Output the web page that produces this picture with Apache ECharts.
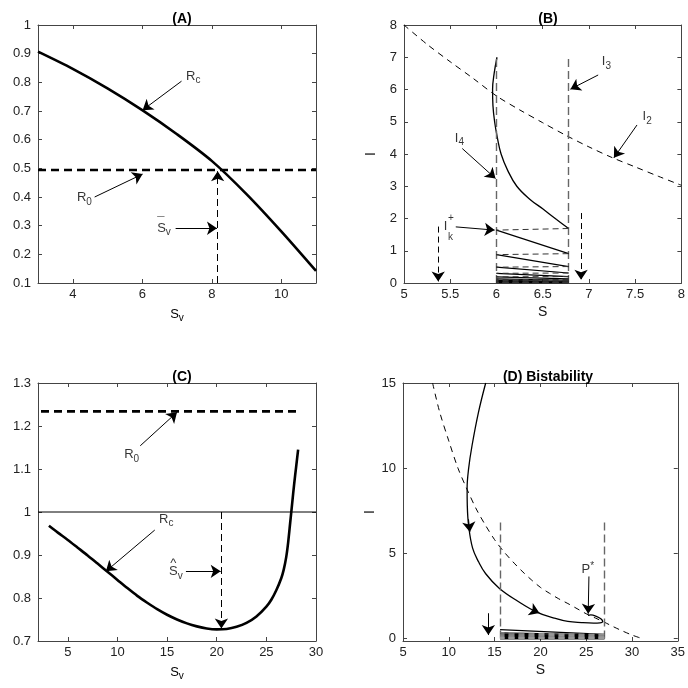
<!DOCTYPE html>
<html><head><meta charset="utf-8">
<script src="https://cdn.jsdelivr.net/npm/echarts@6/dist/echarts.min.js"></script>
<style>html,body{margin:0;padding:0;background:#fff}#c{width:688px;height:688px}</style>
</head><body><div id="c"></div>
<script>
// ---------------- DATA ----------------
// Panel A
const aS  = [3, 4, 5, 6, 7, 8, 9, 10, 11];
const aRc = [0.907, 0.847, 0.779, 0.703, 0.619, 0.526, 0.41, 0.28, 0.142];
const aR0 = 0.494;
const aSbar = 8.17;
const aXTicks = [4, 6, 8, 10];
const aYTicks = [0.1, 0.2, 0.3, 0.4, 0.5, 0.6, 0.7, 0.8, 0.9, 1];
// Panel B
const bNullS = [5, 5.25, 5.5, 5.75, 6, 6.25, 6.5, 6.75, 7, 7.25, 7.5, 7.75, 8];
const bNullI = [8, 7.4, 6.86, 6.34, 5.8, 5.37, 4.97, 4.58, 4.22, 3.89, 3.6, 3.31, 3.03];
const bTrajS = [6.006, 5.975, 5.958, 5.962, 5.98, 6.01, 6.05, 6.12, 6.22, 6.36, 6.5, 6.65, 6.78];
const bTrajI = [7.0, 6.5, 6.0, 5.5, 5.0, 4.5, 4.0, 3.5, 3.0, 2.6, 2.3, 1.97, 1.69];
const bSLow = 6.0, bSHigh = 6.78;
const bPulseStart = [1.64, 0.88, 0.49, 0.30, 0.19, 0.125, 0.08, 0.052, 0.034, 0.022, 0.014, 0.009];
const bPulseEnd   = [0.91, 0.51, 0.31, 0.20, 0.13, 0.085, 0.055, 0.036, 0.024, 0.015, 0.010, 0.006];
const bXTicks = [5, 5.5, 6, 6.5, 7, 7.5, 8];
const bYTicks = [0, 1, 2, 3, 4, 5, 6, 7, 8];
// Panel C
const cS  = [3.1, 4, 5, 6, 7, 8, 9, 10, 11, 12, 13, 14, 15, 16, 17, 18, 19, 20, 21, 22, 23, 24, 25, 25.5, 26, 26.5, 26.75, 27, 27.2, 27.4, 27.6, 27.8, 28, 28.2];
const cRc = [0.968, 0.952, 0.935, 0.917, 0.899, 0.88, 0.861, 0.842, 0.823, 0.805, 0.789, 0.774, 0.761, 0.75, 0.741, 0.734, 0.729, 0.727, 0.728, 0.733, 0.742, 0.757, 0.78, 0.796, 0.818, 0.846, 0.866, 0.895, 0.93, 0.975, 1.02, 1.065, 1.105, 1.145];
const cR0 = 1.234, cR0From = 2.3, cR0To = 28.2;
const cShat = 20.47;
const cXTicks = [5, 10, 15, 20, 25, 30];
const cYTicks = [0.7, 0.8, 0.9, 1, 1.1, 1.2, 1.3];
// Panel D
const dNullS = [8.23, 9, 10, 11, 12, 13, 14, 15, 16, 17, 18, 19, 20, 21, 22, 23, 24, 25, 26, 27, 28, 29, 30, 30.9];
const dNullI = [15, 13.3, 11.6, 10.0, 8.75, 7.6, 6.65, 5.8, 5.1, 4.5, 3.95, 3.45, 3.0, 2.65, 2.33, 2.05, 1.75, 1.45, 1.2, 0.95, 0.68, 0.43, 0.2, 0.03];
const dTrajS = [14.03, 13.25, 12.53, 12.17, 12.0, 12.02, 12.17, 12.6, 13.25, 14.03, 15.5, 17.5, 19.6, 21.5, 23.0, 24.5, 25.8, 26.5, 26.8, 26.6, 26.1, 25.5, 25.2];
const dTrajI = [15, 13.3, 11.3, 10.0, 8.8, 7.8, 6.6, 5.3, 4.5, 3.8, 2.95, 2.2, 1.55, 1.2, 1.0, 0.93, 0.9, 0.92, 1.0, 1.15, 1.3, 1.38, 1.36];
const dSLow = 15.6, dSHigh = 27.0;
const dPulseStart = [0.52, 0.33, 0.25, 0.19, 0.14, 0.10, 0.07, 0.05, 0.035, 0.025];
const dPulseEnd   = [0.24, 0.21, 0.16, 0.12, 0.09, 0.065, 0.045, 0.032, 0.022, 0.015];
const dXTicks = [5, 10, 15, 20, 25, 30, 35];
const dYTicks = [0, 5, 10, 15];

// ---------------- STYLE / HELPERS ----------------
const FONT = '"Liberation Sans", Arial, Helvetica, sans-serif';
const AX = '#444';
const RICH = {
  m: {fontSize: 13, fontFamily: FONT, color: '#000', lineHeight: 18, verticalAlign: 'middle'},
  s: {fontSize: 10, fontFamily: FONT, color: '#000', lineHeight: 9, verticalAlign: 'bottom'},
  p: {fontSize: 10, fontFamily: FONT, color: '#000', lineHeight: 9, verticalAlign: 'top'},
  t: {fontSize: 10, fontFamily: FONT, color: '#000', lineHeight: 12, verticalAlign: 'middle'}
};
const zip = (xs, ys) => xs.map((x, i) => [x, ys[i]]);

const grids = [
  {left: 38, top: 25, width: 278, height: 258},
  {left: 404, top: 25, width: 278, height: 258},
  {left: 38, top: 383, width: 278, height: 258},
  {left: 403, top: 383, width: 279, height: 258}
];

function xAx(g, min, max, ticks, name, main) {
  return {
    type: 'value', gridIndex: g, min: min, max: max, position: main ? 'bottom' : 'top',
    axisLine: {show: true, onZero: false, lineStyle: {color: AX, width: 1}},
    axisTick: {show: true, inside: true, length: 4, customValues: ticks, lineStyle: {color: AX}},
    axisLabel: {show: main, customValues: ticks, margin: 5, color: '#222', fontSize: 13, fontFamily: FONT},
    splitLine: {show: false},
    name: main ? name : '', nameLocation: 'middle', nameGap: 22,
    nameTextStyle: {color: '#111', fontSize: 14, fontFamily: FONT, rich: RICH}
  };
}
function yAx(g, min, max, ticks, name, main) {
  return {
    type: 'value', gridIndex: g, min: min, max: max, position: main ? 'left' : 'right',
    axisLine: {show: true, onZero: false, lineStyle: {color: AX, width: 1}},
    axisTick: {show: true, inside: true, length: 4, customValues: ticks, lineStyle: {color: AX}},
    axisLabel: {show: main, customValues: ticks, margin: 7, color: '#222', fontSize: 13, fontFamily: FONT},
    splitLine: {show: false},
    name: main ? name : '', nameLocation: 'middle', nameGap: 26, nameRotate: 90,
    nameTextStyle: {color: '#111', fontSize: 14, fontFamily: FONT}
  };
}
function curve(g, data, width, type, color, smooth) {
  return {type: 'line', xAxisIndex: 2 * g, yAxisIndex: 2 * g, data: data, symbol: 'none',
    smooth: smooth || false, silent: true, z: 3,
    lineStyle: {color: color || '#000', width: width, type: type || 'solid'}};
}
function segs(g, list, width, type, color, arrow) {
  return {type: 'lines', coordinateSystem: 'cartesian2d', xAxisIndex: 2 * g, yAxisIndex: 2 * g,
    symbol: arrow ? ['none', 'arrow'] : ['none', 'none'], symbolSize: 10, silent: true, z: 4,
    lineStyle: {color: color || '#000', width: width, type: type || 'solid', opacity: 1, curveness: 0},
    data: list.map(c => ({coords: c}))};
}
function texts(g, items) {
  return {type: 'scatter', xAxisIndex: 2 * g, yAxisIndex: 2 * g, symbolSize: 0, silent: true, z: 6,
    itemStyle: {color: '#000'},
    data: items.map(it => ({value: [it[0], it[1]],
      label: {show: true, position: 'right', distance: 0, color: '#000', formatter: it[2], rich: RICH}}))};
}

// ---------------- SERIES ----------------
const series = [];
// A
series.push(curve(0, zip(aS, aRc), 2.6, 'solid', '#000', 0.3));
series.push(curve(0, [[3, aR0], [11, aR0]], 2.6, [8, 5]));
series.push(segs(0, [[[aSbar, 0.1], [aSbar, aR0 - 0.004]]], 1, [7, 4], '#000', true));
series.push(segs(0, [
  [[7.13, 0.804], [6.01, 0.703]],
  [[4.63, 0.40], [6.01, 0.48]],
  [[6.96, 0.291], [8.15, 0.291]]
], 1, 'solid', '#000', true));
series.push(texts(0, [
  [7.26, 0.822, '{m|R}{s|c}'],
  [4.12, 0.397, '{m|R}{s|0}'],
  [6.43, 0.292, '{m|S}{s|v}'],
  [6.43, 0.31, '{m|¯}']
]));
// B
series.push(curve(1, zip(bNullS, bNullI), 1, [6, 5], '#000', 0.3));
series.push(curve(1, zip(bTrajS, bTrajI), 1.3, 'solid', '#000', 0.4));
series.push(segs(1, [[[bSLow, 0], [bSLow, 7]], [[bSHigh, 0], [bSHigh, 7]]], 1.4, [8, 4], '#666'));
const bSolid = bPulseStart.map((s, i) => [[bSLow, s], [bSHigh, bPulseEnd[i]]]);
const bDash = [[[bSHigh, bTrajI[bTrajI.length - 1]], [bSLow, bPulseStart[0]]]]
  .concat(bPulseEnd.slice(0, -1).map((e, i) => [[bSHigh, e], [bSLow, bPulseStart[i + 1]]]));
series.push(segs(1, bSolid, 1.2, 'solid', '#000'));
series.push(segs(1, bDash, 1, [6, 4], '#333'));
series.push(segs(1, [
  [[7.10, 6.45], [6.80, 6.01]],
  [[7.52, 4.9], [7.27, 3.88]],
  [[5.63, 4.17], [5.99, 3.24]],
  [[5.56, 1.74], [5.98, 1.64]]
], 1, 'solid', '#000', true));
series.push(segs(1, [[[5.37, 1.75], [5.37, 0.05]], [[6.915, 2.17], [6.915, 0.1]]], 1, [6, 4], '#000', true));
series.push(texts(1, [
  [7.14, 6.86, '{m|I}{s|3}'],
  [7.58, 5.15, '{m|I}{s|2}'],
  [5.55, 4.48, '{m|I}{s|4}'],
  [5.43, 1.74, '{m|I}'],
  [5.475, 2.01, '{t|+}'],
  [5.475, 1.43, '{t|k}']
]));
// C
series.push(curve(2, zip(cS, cRc), 2.6, 'solid', '#000', 0.25));
series.push(curve(2, [[cR0From, cR0], [cR0To, cR0]], 2.6, [8, 5]));
series.push(curve(2, [[2, 1], [30, 1]], 1, 'solid'));
series.push(segs(2, [[[cShat, 1.0], [cShat, 0.729]]], 1, [7, 4], '#000', true));
series.push(segs(2, [
  [[12.3, 1.154], [16.0, 1.232]],
  [[13.76, 0.958], [8.84, 0.862]],
  [[16.9, 0.862], [20.4, 0.862]]
], 1, 'solid', '#000', true));
series.push(texts(2, [
  [10.68, 1.133, '{m|R}{s|0}'],
  [14.19, 0.982, '{m|R}{s|c}'],
  [15.19, 0.861, '{m|S}{s|v}'],
  [15.32, 0.88, '{m|^}']
]));
// D
series.push(curve(3, zip(dNullS, dNullI), 1, [6, 5], '#000', 0.3));
series.push(curve(3, zip(dTrajS, dTrajI), 1.3, 'solid', '#000', 0.4));
series.push(segs(3, [[[dSLow, 0], [dSLow, 7]], [[dSHigh, 0], [dSHigh, 7]]], 1.4, [8, 4], '#666'));
const dSolid = dPulseStart.map((s, i) => [[dSLow, s], [dSHigh, dPulseEnd[i]]]);
const dDash = dPulseEnd.slice(0, -1).map((e, i) => [[dSHigh, e], [dSLow, dPulseStart[i + 1]]]);
series.push(segs(3, dSolid, 1.4, 'solid', '#000'));
series.push(segs(3, dDash, 1, [6, 4], '#999'));
series.push(segs(3, [
  [[25.3, 3.64], [25.22, 1.45]],
  [[14.32, 1.48], [14.32, 0.2]],
  [[12.15, 7.0], [12.3, 6.25]],
  [[19.0, 1.7], [19.9, 1.5]]
], 1, 'solid', '#000', true));
series.push(texts(3, [
  [24.5, 4.03, '{m|P}{p|*}']
]));

const TT = {fontSize: 14, fontWeight: 'bold', fontFamily: FONT, color: '#000'};
const option = {
  animation: false,
  backgroundColor: '#fff',
  title: [
    {text: '(A)', left: 177, top: 7, textAlign: 'center', textStyle: TT},
    {text: '(B)', left: 543, top: 7, textAlign: 'center', textStyle: TT},
    {text: '(C)', left: 177, top: 365, textAlign: 'center', textStyle: TT},
    {text: '(D) Bistability', left: 543, top: 365, textAlign: 'center', textStyle: TT}
  ],
  grid: grids,
  xAxis: [
    xAx(0, 3, 11, aXTicks, '{m|S}{s|v}', true), xAx(0, 3, 11, aXTicks, '', false),
    xAx(1, 5, 8, bXTicks, 'S', true), xAx(1, 5, 8, bXTicks, '', false),
    xAx(2, 2, 30, cXTicks, '{m|S}{s|v}', true), xAx(2, 2, 30, cXTicks, '', false),
    xAx(3, 5, 35, dXTicks, 'S', true), xAx(3, 5, 35, dXTicks, '', false)
  ],
  yAxis: [
    yAx(0, 0.1, 1, aYTicks, '', true), yAx(0, 0.1, 1, aYTicks, '', false),
    yAx(1, 0, 8, bYTicks, 'I', true), yAx(1, 0, 8, bYTicks, '', false),
    yAx(2, 0.7, 1.3, cYTicks, '', true), yAx(2, 0.7, 1.3, cYTicks, '', false),
    yAx(3, -0.15, 15, dYTicks, 'I', true), yAx(3, -0.15, 15, dYTicks, '', false)
  ],
  series: series
};
const chart = echarts.init(document.getElementById('c'), null, {renderer: 'canvas'});
chart.setOption(option);
</script>
</body></html>
